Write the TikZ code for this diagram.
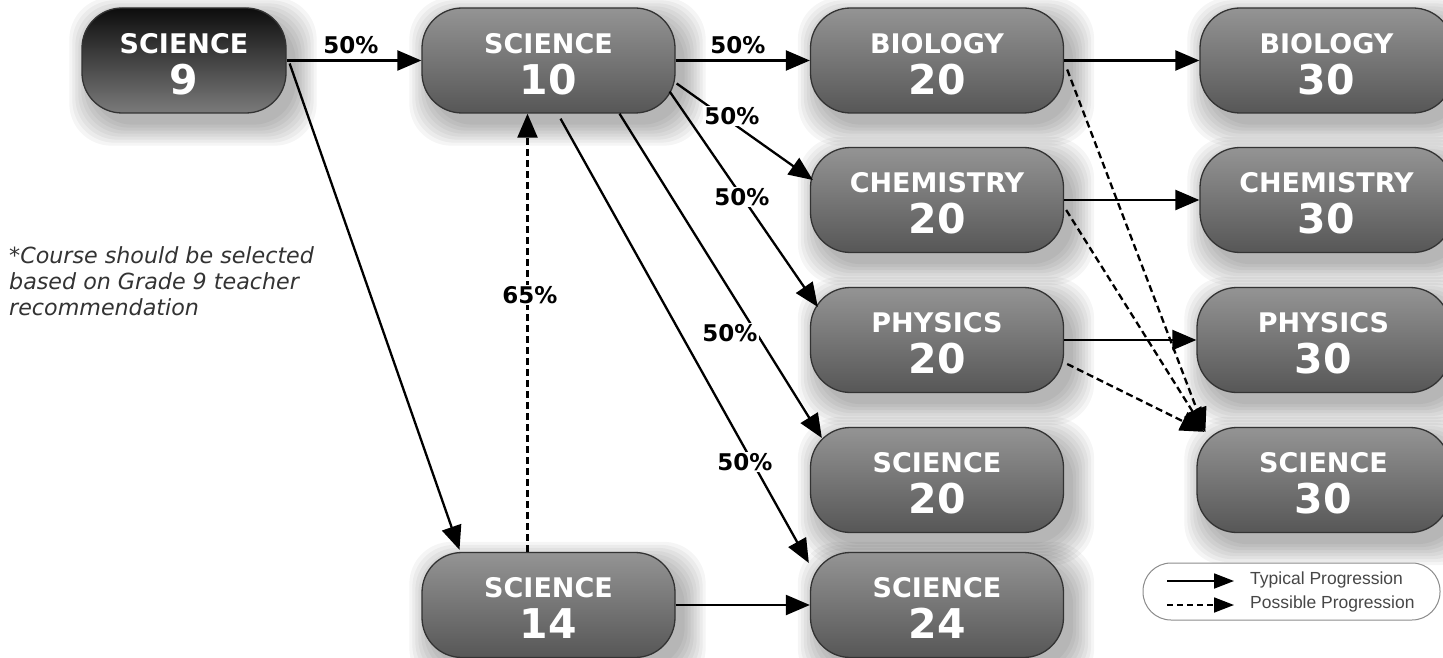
\documentclass[tikz,border=0pt]{standalone}
\usepackage{fontspec}
\setmainfont{DejaVu Sans}
\newfontfamily\legfont{Liberation Sans}
\usetikzlibrary{arrows.meta,calc,backgrounds}
\newcommand\crs[2]{\begin{tabular}{@{}c@{}}\rule{0pt}{30pt}\fontsize{27}{27}\selectfont #1\\[7pt]\fontsize{41}{41}\selectfont #2\end{tabular}}
\tikzset{
  course/.style={rectangle, rounded corners=40pt, minimum width=253pt, minimum height=105pt,
    draw=black!80, line width=1.3pt, top color=black!42, bottom color=black!66,
    text=white, font=\bfseries, inner sep=0pt},
  firstcourse/.style={course, minimum width=204pt, top color=black!95, bottom color=black!52},
  arr/.style={line width=2.3pt, -{Triangle[length=24pt,width=20pt]}},
  darr/.style={arr, dash pattern=on 7pt off 4pt},
  pct/.style={fill=white, font=\bfseries\fontsize{23}{23}\selectfont, inner sep=1.5pt},
  legarr/.style={line width=1.8pt, -{Triangle[length=20pt,width=15pt]}},
}
\begin{document}
\begin{tikzpicture}[x=1pt,y=-1pt]
\useasboundingbox (0,0) rectangle (1443,658);
% course boxes
\node[firstcourse] (s9)  at (184,60.5)   {\crs{SCIENCE}{9}};
\node[course] (s10) at (548.5,60.5) {\crs{SCIENCE}{10}};
\node[course] (b20) at (937,60.5)   {\crs{BIOLOGY}{20}};
\node[course] (b30) at (1326.5,60.5) {\crs{BIOLOGY}{30}};
\node[course] (c20) at (937,200)    {\crs{CHEMISTRY}{20}};
\node[course] (c30) at (1326.5,200) {\crs{CHEMISTRY}{30}};
\node[course] (p20) at (937,340)    {\crs{PHYSICS}{20}};
\node[course] (p30) at (1323.5,340) {\crs{PHYSICS}{30}};
\node[course] (s20) at (937,480)    {\crs{SCIENCE}{20}};
\node[course] (s30) at (1323.5,480) {\crs{SCIENCE}{30}};
\node[course] (s14) at (548.5,605)  {\crs{SCIENCE}{14}};
\node[course] (s24) at (937,605)    {\crs{SCIENCE}{24}};
% white page and soft shadows
\begin{scope}[on background layer]
\fill[white] (0,0) rectangle (1443,658);
\foreach \n in {s9,s10,b20,b30,c20,c30,p20,p30,s20,s30,s14,s24}{
  \foreach \i in {0,...,7}{
    \fill[black,opacity=0.04,rounded corners=42pt]
      ($(\n.north west)+(9-\i*3,11-\i*3)$) rectangle ($(\n.south east)+(9+\i*3,11+\i*3)$);
  }
}
\end{scope}
% typical progressions
\draw[arr] (s9.east) -- (s10.west);
\draw[arr] ($(s9.east)+(3,3)$) -- ($(s14.north)+(-89,-2)$);
\draw[arr] (s10.east) -- (b20.west);
\draw[arr] ($(s10.east)+(1,23)$) -- ($(c20.west)+(3,-20)$);
\draw[arr] ($(s10.east)+(-6,31)$) -- ($(p20.west)+(8,-33)$);
\draw[arr] ($(s10.south)+(71,0)$) -- ($(s20.west)+(12,-42)$);
\draw[arr] ($(s10.south)+(12,5)$) -- ($(s24.west)+(-1,-42)$);
\draw[arr] (s14.east) -- (s24.west);
\draw[arr] (b20.east) -- (b30.west);
\draw[arr] (c20.east) -- (c30.west);
\draw[arr] (p20.east) -- (p30.west);
% possible progressions
\draw[darr] ($(s14.north)+(-21,0)$) -- ($(s10.south)+(-21,0)$);
\draw[darr] ($(b20.east)+(3,9)$) -- ($(s30.north west)+(9,5)$);
\draw[darr] ($(c20.east)+(2,10)$) -- ($(s30.north west)+(9,5)$);
\draw[darr] ($(p20.east)+(3,24)$) -- ($(s30.north west)+(8,5)$);
% percentages
\node[pct] (l1) at (351,45)  {50\%};
\node[pct] (l2) at (738,45)  {50\%};
\node[pct] (l3) at (732,116) {50\%};
\node[pct] (l4) at (742,197) {50\%};
\node[pct] (l5) at (730,333) {50\%};
\node[pct] (l6) at (745,462) {50\%};
\node[pct] (l7) at (530,295) {65\%};
% footnote
\node[anchor=north west, align=left, text=black!80, inner sep=0pt,
      font=\itshape\fontsize{22.2}{26}\selectfont] (note) at (9,246)
  {*Course should be selected\\based on Grade 9 teacher\\recommendation};
% legend
\node[draw=black!45, fill=white, line width=1pt, rounded corners=28pt, minimum width=297pt, minimum height=57pt] (leg) at (1291.5,591.5) {};
\coordinate (ta) at (1167,581);
\coordinate (tb) at (1234,581);
\coordinate (pa) at (1167,605);
\coordinate (pb) at (1234,605);
\draw[legarr] (ta) -- (tb);
\draw[legarr, dash pattern=on 6pt off 4pt] (pa) -- (pb);
\node[anchor=west, inner sep=0pt, text=black!72, font=\legfont\fontsize{17.5}{17.5}\selectfont] (tt) at (1250,580) {Typical Progression};
\node[anchor=west, inner sep=0pt, text=black!72, font=\legfont\fontsize{17.5}{17.5}\selectfont] (pt) at (1250,604) {Possible Progression};
\end{tikzpicture}
\end{document}
